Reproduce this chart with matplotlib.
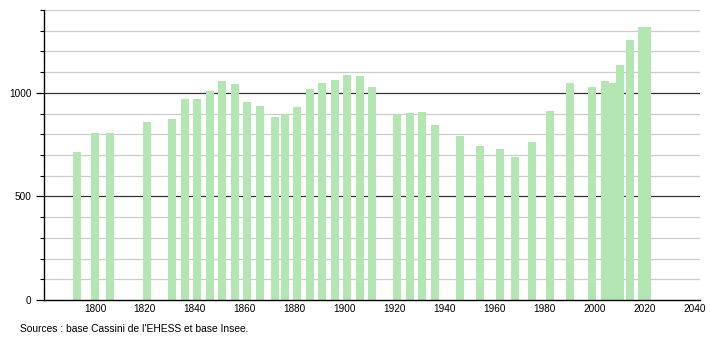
import matplotlib
matplotlib.use("Agg")
import matplotlib.pyplot as plt
from matplotlib.ticker import MultipleLocator, FixedLocator

years = [1793, 1800, 1806, 1821, 1831, 1836, 1841, 1846, 1851, 1856,
         1861, 1866, 1872, 1876, 1881, 1886, 1891, 1896, 1901, 1906,
         1911, 1921, 1926, 1931, 1936, 1946, 1954, 1962, 1968, 1975,
         1982, 1990, 1999, 2004, 2007, 2010, 2014, 2019, 2021]
population = [715, 805, 805, 860, 874, 968, 971, 1010, 1057, 1043,
              957, 937, 884, 898, 932, 1019, 1047, 1063, 1086, 1082,
              1029, 898, 904, 910, 845, 794, 744, 729, 692, 762,
              913, 1048, 1029, 1058, 1050, 1134, 1256, 1317, 1317]
x_ticks = [1800, 1820, 1840, 1860, 1880, 1900, 1920, 1940, 1960, 1980, 2000, 2020, 2040]
y_major = [0, 500, 1000]
source_text = "Sources : base Cassini de l'EHESS et base Insee."

plt.rcParams['font.family'] = ['Liberation Sans', 'DejaVu Sans']

fig = plt.figure(figsize=(7.1, 3.4), dpi=100)
ax = fig.add_axes([44/710, 1 - 300/340, (700 - 44)/710, (300 - 10)/340])

ax.set_xlim(1779.6, 2042.2)
ax.set_ylim(0, 1400)

# grid lines
for v in range(100, 1401, 100):
    if v in (500, 1000):
        ax.axhline(v, color='#333333', lw=0.9, zorder=1)
    else:
        ax.axhline(v, color='#cccccc', lw=0.9, zorder=1)

ax.bar(years, population, width=3.2, color='#b3e6b3', zorder=2, linewidth=0)

ax.spines['top'].set_visible(False)
ax.spines['right'].set_visible(False)
ax.spines['left'].set_color('black')
ax.spines['bottom'].set_color('black')
ax.spines['left'].set_linewidth(1.0)
ax.spines['bottom'].set_linewidth(1.0)
ax.spines['left'].set_zorder(3)
ax.spines['bottom'].set_zorder(3)

ax.yaxis.set_major_locator(FixedLocator(y_major))
ax.yaxis.set_minor_locator(MultipleLocator(100))
ax.tick_params(axis='y', which='major', length=6, width=0.9, labelsize=7.2, pad=3, colors='black')
ax.tick_params(axis='y', which='minor', length=3, width=0.8)

ax.set_xticks(x_ticks)
ax.set_xticklabels([str(t) for t in x_ticks])
ax.tick_params(axis='x', which='major', length=0, labelsize=7.2, pad=3)

fig.text(20/710, 1 - 329/340, source_text, fontsize=7.4, va='center', ha='left')

fig.savefig("out.png", dpi=100)
